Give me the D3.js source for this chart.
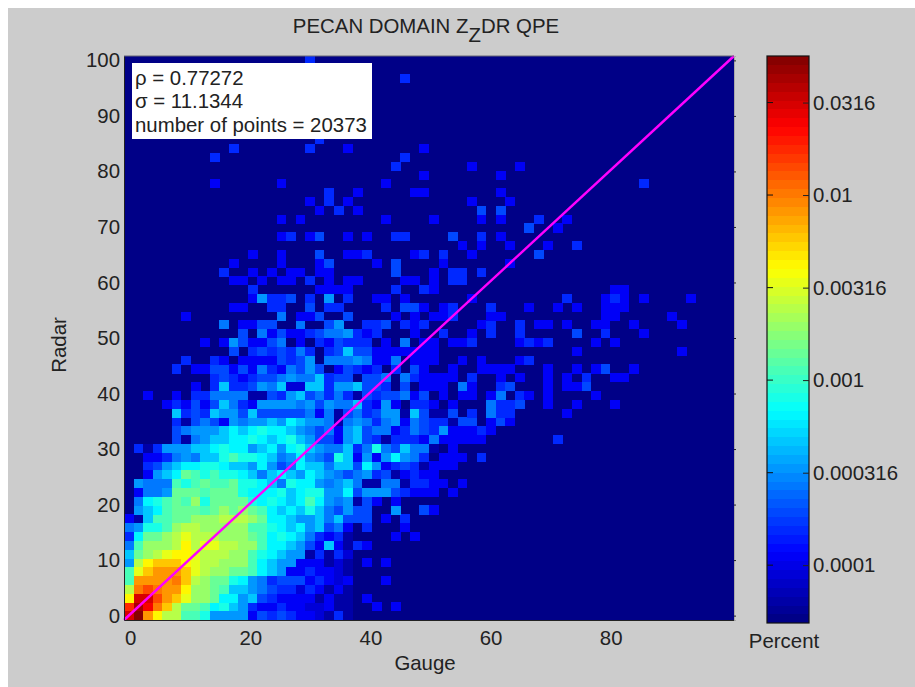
<!DOCTYPE html>
<html>
<head>
<meta charset="utf-8">
<script src="https://d3js.org/d3.v7.min.js"></script>
<style>
html, body { margin: 0; padding: 0; background: #fff; }
text { font-family: "Liberation Sans", Arial, sans-serif; fill: #222; }
</style>
</head>
<body>
<svg width="915" height="687"></svg>
<script>
// density, row 0 is the bottom row, one letter per cell
// "." = empty bin, a..z = colour level from the bottom to the top of the colorbar
var levelChars = "abcdefghijklmnopqrstuvwxyz"
var densityRows = [
  "xzsqoollkhhhhdfefeddcbeb",
  "vywtrommljkiheddeddccdbb..d.d",
  "qxxusrpnnmjjhifeddddbdbb.d",
  "otutssqnnmliihgfeecedbdb",
  "lsssstronmmkjhgefffdedcd...d",
  "lprsssrponnmmljihddeddcb",
  "hoqrrrqpoonnnljihhdddbcb.d.d",
  "imnopqqpooonnlkjihhbebec",
  "glnnnoqoppoonnljjihfdidbed",
  "ejmmnopooonnnmljkjigedeb....d.d",
  "ghkklnoonnnnnllkjijhifgd.e...d",
  "dbillmmnnnooonmjjihhigifff.d.e",
  ".hijlmmmlmnmnmljijikigfhff..h..fd",
  ".gjklmlnkmmmmkjkjijljhghbfd.d",
  ".dgghmmmlmmmkjjjkijkkhhjfhhhfeddd.d",
  ".hggglklmllmkkjigkjjhghigbbggbeedd.d",
  "..dhijmlklkkjigijihjihgfghefbdedd",
  "..efhijjkkjiihjhfgjiigiifjhdefebddd",
  "..ddeghgiiklkkjighjhgfkidhdhjhge.ddd.e",
  ".ebehhhiijkjjhijhjkihggiegkgfiggb.d",
  ".....fbghiijjkjijkihffdhifebeeedgddddd.......e",
  ".....fghhhijijkjjihgfgdhifggdegfehddded",
  ".....ebfgfdhghhihjihhgbghgeghdgfeebff.dfd",
  ".....iefeihhfifffffgdgbfgefhhbifbbf.e.gee.....d",
  "....dedfdfigedhhhhghfhggiedhd.eed.d...geef..d..d...d",
  "..d..d.eeggggbbfehifgegebfeffgdf.d.dd.dg.ed.d....d",
  ".......d.eieefhgicciiehhiffe.f.ddd.gd..ef...d.ddf",
  ".........efedeffghggieff.ffg.gedddd.e..d.d..d.d.e..dd",
  ".....e.ddffdfdgedgfhf.dfede.e.fd..d..dddd...d..d.df..d",
  "......e..ed.ddddfefh.ggghgddg.ddd..d.d...de",
  "...........f.efefege.efiffddddddd..............d..........d",
  "........d.dhfddfg.d.edfeee.d.g.dd.dde....dede....d.d",
  "............f.gdfddefgghede...d..e..d.e..e.....f..e...d",
  "..........g.ddff..g..fh..eef.ede.....de..e.dd.d..dd..d....d",
  "......d.........g.ddf..f....d.d.dde...dd..........dd.....d",
  "...........dd..ee..f.ee....e.ffd.de...e...d..d.d..ddd",
  ".............dheef.e.h.e..dd.d......d.........e...ded.d....d",
  ".............e......dddd....e..ed..................dd",
  "...........dd.d.dd.e.d.dd....dd.d.ee",
  "..........e..d.d.dd.dd......f...d.ee.e",
  "...........d....d...df....d.f....d......d",
  ".............d..d...f..dde....de.e..d......f",
  "...................................d.d..d...d..e",
  "................de.df..d.d..ee....f..e.d",
  "..........................................f..d",
  "................d.d........d....d....d.d...e..d",
  "....................d.e.d............f.f",
  "...................d.e.d............d...d",
  ".....................e..d.....dd.......d",
  ".........d......d..........d..........................e",
  "...............................d.......d",
  "............................e.......d....d",
  ".........e...................e",
  "...........e.......e...d.......d",
  "....................e",
  "",
  "",
  "",
  "",
  "",
  "",
  ".............................e",
  "",
  "...................e"
]
var binCount = 64

var xTicks = [0, 20, 40, 60, 80]
var yTicks = [0, 10, 20, 30, 40, 50, 60, 70, 80, 90, 100]
var axisExtent = [-0.79, 100.79]
var oneToOne = [-0.79, 100.79]

var colorRange = [0.0000487, 0.0564]
var colorTicks = [0.0001, 0.000316, 0.001, 0.00316, 0.01, 0.0316]
var colorTickLabels = ["0.0001", "0.000316", "0.001", "0.00316", "0.01", "0.0316"]
var statsLines = ["\u03c1 = 0.77272", "\u03c3 = 11.1344", "number of points = 20373"]

var plot = {left: 124, right: 734, top: 56, bottom: 620}
var bar = {left: 767, right: 809, top: 56, bottom: 623}
var fontSize = "20.4px"

var svg = d3.select("svg")

svg.append("rect").attr("x", 8).attr("y", 8).attr("width", 907).attr("height", 679).attr("fill", "#cccccc")

// matlab jet with 64 steps
function jet(t) {
  var k = (Math.min(Math.floor(t * 64), 63) + 0.5) / 64
  function ch(v) { return Math.round(255 * Math.max(0, Math.min(1, v))) }
  return d3.rgb(ch(1.5 - Math.abs(4 * k - 3)), ch(1.5 - Math.abs(4 * k - 2)), ch(1.5 - Math.abs(4 * k - 1)))
}

var logPos = d3.scaleLog().domain(colorRange).range([0, 1]).clamp(true)

var cells = []
densityRows.forEach(function(row, r) {
  for (var c = 0; c < row.length; c++) {
    if (row[c] != ".") cells.push({col: c, row: r, pct: logPos.invert(levelChars.indexOf(row[c]) / 25)})
  }
})

var x = d3.scaleLinear().domain(axisExtent).range([plot.left, plot.right])
var y = d3.scaleLinear().domain(axisExtent).range([plot.bottom, plot.top])
var xBin = d3.scaleBand().domain(d3.range(binCount)).range([plot.left, plot.right])
var yBin = d3.scaleBand().domain(d3.range(binCount)).range([plot.bottom, plot.top])

svg.append("rect")
  .attr("x", plot.left).attr("y", plot.top)
  .attr("width", plot.right - plot.left).attr("height", plot.bottom - plot.top)
  .attr("fill", jet(0))

svg.append("g").selectAll("rect")
  .data(cells)
  .enter().append("rect")
  .attr("x", function(d) { return xBin(d.col) })
  .attr("y", function(d) { return yBin(d.row) })
  .attr("width", xBin.bandwidth() + 0.3)
  .attr("height", yBin.bandwidth() + 0.3)
  .attr("shape-rendering", "crispEdges")
  .attr("fill", function(d) { return jet(logPos(d.pct)) })

svg.append("line")
  .attr("x1", x(oneToOne[0])).attr("y1", y(oneToOne[0]))
  .attr("x2", x(oneToOne[1])).attr("y2", y(oneToOne[1]))
  .attr("stroke", "#ff00ff").attr("stroke-width", 2.4)

// axes
function styleAxis(g) {
  g.selectAll("text").style("font-size", fontSize).attr("fill", "#222")
  g.selectAll("path, line").attr("stroke", "#222")
}

svg.append("g")
  .attr("transform", "translate(0," + plot.bottom + ")")
  .call(d3.axisBottom(x).tickValues(xTicks).tickSize(0).tickPadding(11))
  .call(styleAxis)
  .call(function(g) { g.selectAll("text").attr("dx", 1.5) })

svg.append("g")
  .attr("transform", "translate(" + plot.left + ",0)")
  .call(d3.axisLeft(y).tickValues(yTicks).tickSize(0).tickPadding(4))
  .call(styleAxis)

svg.append("g")
  .attr("transform", "translate(" + plot.right + ",0)")
  .call(d3.axisRight(y).tickValues(yTicks).tickSize(2).tickFormat(""))
  .call(styleAxis)
  .call(function(g) { g.select(".domain").attr("stroke", "#aaa") })

svg.append("line")
  .attr("x1", plot.left).attr("x2", plot.right).attr("y1", plot.top).attr("y2", plot.top)
  .attr("stroke", "#667")

// stats box
svg.append("rect")
  .attr("x", 132).attr("y", 63).attr("width", 240).attr("height", 76)
  .attr("fill", "#fff")

svg.append("g").selectAll("text")
  .data(statsLines)
  .enter().append("text")
  .attr("x", 135)
  .attr("y", function(d, i) { return 85 + i * 23.4 })
  .style("font-size", fontSize)
  .text(function(d) { return d })

// titles
var title = svg.append("text")
  .attr("x", 426).attr("y", 33)
  .attr("text-anchor", "middle")
  .style("font-size", fontSize)
title.append("tspan").text("PECAN DOMAIN Z")
title.append("tspan").attr("dy", 9).text("Z")
title.append("tspan").attr("dy", -9).text("DR QPE")

svg.append("text")
  .attr("x", 425).attr("y", 670)
  .attr("text-anchor", "middle")
  .style("font-size", fontSize)
  .text("Gauge")

svg.append("text")
  .attr("transform", "translate(66,345) rotate(-90)")
  .attr("text-anchor", "middle")
  .style("font-size", fontSize)
  .text("Radar")

// colorbar
var barY = d3.scaleLog().domain(colorRange).range([bar.bottom, bar.top])
var stops = d3.range(64)
var stripe = (bar.bottom - bar.top) / 64

svg.append("g").selectAll("rect")
  .data(stops)
  .enter().append("rect")
  .attr("x", bar.left)
  .attr("y", function(d) { return bar.bottom - (d + 1) * stripe })
  .attr("width", bar.right - bar.left)
  .attr("height", stripe + 0.3)
  .attr("shape-rendering", "crispEdges")
  .attr("fill", function(d) { return jet((d + 0.5) / 64) })

svg.append("rect")
  .attr("x", bar.left).attr("y", bar.top)
  .attr("width", bar.right - bar.left).attr("height", bar.bottom - bar.top)
  .attr("fill", "none").attr("stroke", "#111").attr("stroke-width", 1.2)

svg.append("g")
  .attr("transform", "translate(" + bar.right + ",0)")
  .call(d3.axisRight(barY).tickValues(colorTicks).tickSize(-6).tickPadding(4)
    .tickFormat(function(d, i) { return colorTickLabels[i] }))
  .call(styleAxis)
  .call(function(g) { g.select(".domain").remove() })

svg.append("g").selectAll("line")
  .data(colorTicks)
  .enter().append("line")
  .attr("x1", bar.left).attr("x2", bar.left + 6)
  .attr("y1", function(d) { return barY(d) }).attr("y2", function(d) { return barY(d) })
  .attr("stroke", "#111")

svg.append("text")
  .attr("x", 784).attr("y", 648)
  .attr("text-anchor", "middle")
  .style("font-size", fontSize)
  .text("Percent")
</script>
</body>
</html>
